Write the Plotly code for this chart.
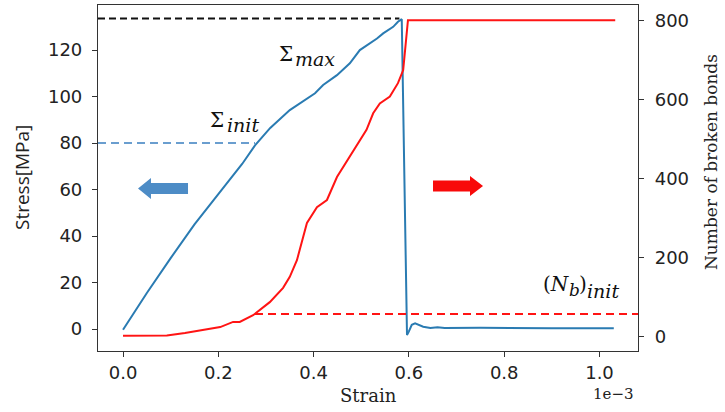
import plotly.graph_objects as go

# ---- data ----
strain_stress = [0.0, 0.05, 0.10, 0.15, 0.20, 0.25, 0.277, 0.309, 0.35, 0.392, 0.403, 0.42,
                 0.449, 0.476, 0.497, 0.533, 0.546, 0.567, 0.577, 0.585, 0.596, 0.600,
                 0.606, 0.613, 0.63, 0.645, 0.66, 0.675, 0.75, 0.9, 1.03]
stress = [-0.3, 15.5, 30.5, 45.0, 58.0, 71.0, 79.0, 86.5, 94.2, 99.9, 101.4, 105.0,
          109.2, 114.3, 120.0, 125.0, 127.2, 130.0, 132.2, 133.3, -2.6, -1.0,
          1.8, 2.4, 1.0, 0.4, 0.8, 0.4, 0.5, 0.3, 0.3]

strain_bonds = [0.0, 0.05, 0.092, 0.13, 0.161, 0.204, 0.231, 0.245, 0.273, 0.308, 0.336,
                0.350, 0.365, 0.386, 0.407, 0.428, 0.449, 0.497, 0.511, 0.525, 0.539,
                0.560, 0.577, 0.588, 0.598, 1.033]
bonds = [3, 3, 4, 10, 17, 25, 38, 38, 55, 88, 124, 152, 194, 288, 328, 346, 404, 495,
         523, 565, 590, 607, 641, 674, 800, 800]

sigma_max = 133.6
sigma_max_strain = 0.58
sigma_init = 80
sigma_init_strain = 0.277
nb_init = 58
nb_init_strain = 0.277

x_ticks = [0.0, 0.2, 0.4, 0.6, 0.8, 1.0]
y_ticks = [0, 20, 40, 60, 80, 100, 120]
y2_ticks = [0, 200, 400, 600, 800]

X_RANGE = [-0.0525, 1.0808]
Y_RANGE = [-9.46, 139.4]
Y2_RANGE = [-35.4, 838.4]

BLUE = "#2a7bb2"
RED = "#ff1414"

# plot-area pixel geometry
L, R, T, B = 98, 638, 5, 351
W, H = R - L, B - T


def px(x):
    return (x - L) / W


def py(y):
    return (B - y) / H


fig = go.Figure()

# dashed reference lines
fig.add_trace(go.Scatter(x=[X_RANGE[0], sigma_max_strain], y=[sigma_max, sigma_max], mode="lines",
                         line=dict(color="#111111", width=2, dash="7px,4px"), hoverinfo="skip"))
fig.add_trace(go.Scatter(x=[X_RANGE[0], sigma_init_strain], y=[sigma_init, sigma_init], mode="lines",
                         line=dict(color="#3a7fc0", width=1.5, dash="8px,5px"), hoverinfo="skip"))
fig.add_trace(go.Scatter(x=[nb_init_strain, X_RANGE[1]], y=[nb_init, nb_init], mode="lines",
                         line=dict(color=RED, width=2, dash="8px,5px"), yaxis="y2", hoverinfo="skip"))

fig.add_trace(go.Scatter(x=strain_stress, y=stress, mode="lines",
                         line=dict(color=BLUE, width=2)))
fig.add_trace(go.Scatter(x=strain_bonds, y=bonds, mode="lines",
                         line=dict(color=RED, width=2), yaxis="y2"))

axis_common = dict(showline=True, linecolor="#333333", linewidth=1.2, ticks="outside",
                   ticklen=5, tickwidth=1.2, tickcolor="#333333", showgrid=False, zeroline=False,
                   automargin=False,
                   tickfont=dict(family="DejaVu Sans", size=18, color="#222222"))

fig.update_layout(
    width=725, height=412,
    margin=dict(l=L, r=725 - R, t=T, b=412 - B),
    paper_bgcolor="white", plot_bgcolor="white",
    showlegend=False,
    xaxis=dict(range=X_RANGE, tickvals=x_ticks, tickformat=".1f", mirror=True,
               ticklabelstandoff=0, **axis_common),
    yaxis=dict(range=Y_RANGE, tickvals=y_ticks, mirror=True, ticklabelstandoff=6, **axis_common),
    yaxis2=dict(range=Y2_RANGE, tickvals=y2_ticks, overlaying="y", side="right",
                ticklabelstandoff=7, **axis_common),
)


def label(text, x, y, size, family, xanchor="center", angle=0, color="#222"):
    return dict(text=text, x=px(x), y=py(y), xref="paper", yref="paper", showarrow=False,
                xanchor=xanchor, yanchor="middle", textangle=angle,
                font=dict(family=family, size=size, color=color))


SER = "DejaVu Serif"
ann = [
    # axis titles
    label("Stress[MPa]", 22, 178, 19, "Open Sans", angle=-90),
    label("Number of broken bonds", 711, 162, 17, SER, angle=-90),
    label("Strain", 368, 395, 18, SER),
    label("1e\u22123", 613, 394, 15, SER),
    # Sigma_max
    label("\u03a3", 286, 54, 20, SER, color="#111"),
    label("<i>max</i>", 293, 59, 19, SER, xanchor="left", color="#111"),
    # Sigma_init
    label("\u03a3", 217, 120, 20, SER, color="#111"),
    label("<i>init</i>", 225, 125, 19, SER, xanchor="left", color="#111"),
    # (N_b)_init
    label("(<i>N</i>", 541, 284, 20, SER, xanchor="left", color="#111"),
    label("<i>b</i>", 567, 290, 17, SER, xanchor="left", color="#111"),
    label(")", 577, 284, 20, SER, xanchor="left", color="#111"),
    label("<i>init</i>", 585, 291, 19, SER, xanchor="left", color="#111"),
]
fig.update_layout(annotations=ann)


def arrow_path(pts):
    return "M " + " L ".join(f"{px(a):.4f},{py(b):.4f}" for a, b in pts) + " Z"


blue_arrow = [(138, 188.5), (151, 178), (151, 183), (188, 183), (188, 194), (151, 194), (151, 199)]
red_arrow = [(483, 186), (470, 176), (470, 180.5), (433, 180.5), (433, 191.5), (470, 191.5), (470, 196)]
fig.update_layout(shapes=[
    dict(type="path", xref="paper", yref="paper", path=arrow_path(blue_arrow),
         fillcolor="#4d8cc6", line=dict(width=0)),
    dict(type="path", xref="paper", yref="paper", path=arrow_path(red_arrow),
         fillcolor="#f80a0a", line=dict(width=0)),
])

fig.write_html("out.html", config={"displayModeBar": False},
               post_script="document.body.style.margin='0px';")
